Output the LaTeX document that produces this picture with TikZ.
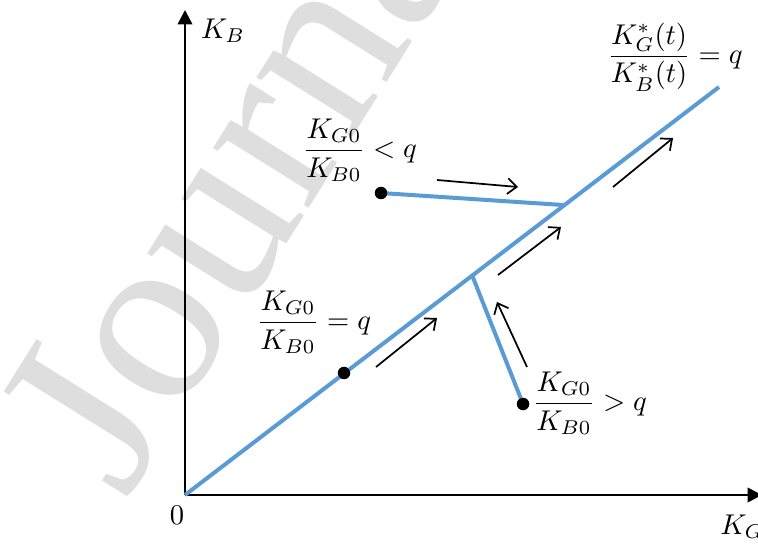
\documentclass[tikz,border=0pt]{standalone}
\usepackage{amsmath}
\usepackage{fontspec}
\newfontfamily\wmfont{Liberation Serif}
\usetikzlibrary{arrows.meta}
\definecolor{lineblue}{RGB}{91,155,213}
\definecolor{wmgray}{RGB}{222,222,222}

\begin{document}
\begin{tikzpicture}[x=0.35pt, y=-0.35pt,
  bluepath/.style={line width=1.4pt, lineblue},
  axis/.style={line width=0.9pt, -{Triangle[length=5pt,width=5pt]}},
  flow/.style={line width=0.6pt, -{Straight Barb[length=3.2pt,width=5.5pt]}},
  dotnode/.style={circle, fill=black, inner sep=0pt, minimum size=4.3pt}]
  \useasboundingbox (0,0) rectangle (758,545);
  % watermark
  \node[wmgray, rotate=58, anchor=base west, inner sep=0pt,
    font=\wmfont\fontsize{86}{86}\selectfont] (wm) at (125,502) {Journal};
  % axes
  \coordinate (O) at (185,495);
  \coordinate (ytop) at (185,10);
  \coordinate (xend) at (762,495);
  \draw[axis] (O) -- (ytop);
  \draw[axis] (O) -- (xend);
  \node (kb) at (223,31) {$K_B$};
  \node (zero) at (177,515) {$0$};
  \node (kg) at (742,527) {$K_G$};
  % balanced path and the two routes onto it
  \coordinate (T) at (719,87);
  \coordinate (J1) at (563,205);
  \coordinate (J2) at (472,275);
  \node[dotnode] (d1) at (344,373) {};
  \node[dotnode] (d2) at (381,193) {};
  \node[dotnode] (d3) at (523,404) {};
  \draw[bluepath] (O) -- (T);
  \draw[bluepath] (d2.center) -- (J1);
  \draw[bluepath] (d3.center) -- (J2);
  \node[dotnode] at (d1) {};
  \node[dotnode] at (d2) {};
  \node[dotnode] at (d3) {};
  % labels
  \node (ltq) at (360,150) {$\dfrac{K_{G0}}{K_{B0}}<q$};
  \node (eqq) at (314,322) {$\dfrac{K_{G0}}{K_{B0}}=q$};
  \node (gtq) at (590,403) {$\dfrac{K_{G0}}{K_{B0}}>q$};
  \node (ss) at (675,57) {$\dfrac{K_G^*(t)}{K_B^*(t)}=q$};
  % direction arrows
  \coordinate (a1s) at (376,367); \coordinate (a1e) at (437,318);
  \coordinate (a2s) at (498,275); \coordinate (a2e) at (561,227);
  \coordinate (a3s) at (613,187); \coordinate (a3e) at (673,138);
  \coordinate (a4s) at (437,180); \coordinate (a4e) at (518,187);
  \coordinate (a5s) at (527,367); \coordinate (a5e) at (497,302);
  \draw[flow] (a1s) -- (a1e);
  \draw[flow] (a2s) -- (a2e);
  \draw[flow] (a3s) -- (a3e);
  \draw[flow] (a4s) -- (a4e);
  \draw[flow] (a5s) -- (a5e);
\end{tikzpicture}
\end{document}
